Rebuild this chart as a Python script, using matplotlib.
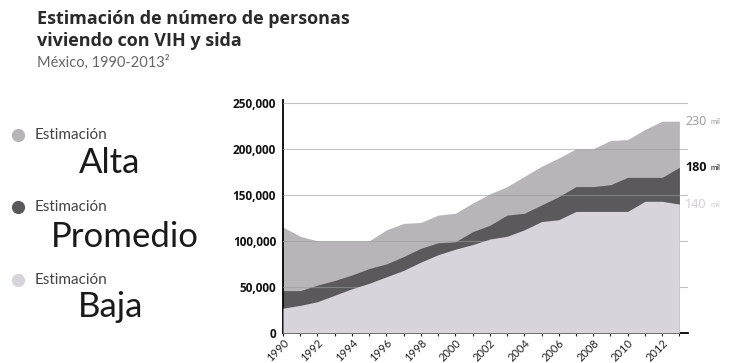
import matplotlib.pyplot as plt
from matplotlib.lines import Line2D
from matplotlib.ticker import FuncFormatter, MultipleLocator

# Personas viviendo con VIH y sida, México 1990-2013 (tres estimaciones)
anios = list(range(1990, 2014))
alta = [115000, 105000, 100000, 100000, 100000, 100000, 112000, 119000,
        120000, 128000, 130000, 141000, 151000, 159000, 170000, 181000,
        190000, 200000, 200000, 209000, 210000, 221000, 230000, 230000]
promedio = [46000, 46000, 52000, 57000, 63000, 70000, 75000, 83000,
            92000, 98000, 99000, 110000, 117000, 128000, 130000, 139000,
            148000, 159000, 159000, 161000, 169000, 169000, 169000, 180000]
baja = [27000, 30000, 34000, 41000, 48000, 54000, 61000, 68000,
        77000, 85000, 91000, 96000, 102000, 105000, 112000, 121000,
        123000, 132000, 132000, 132000, 132000, 143000, 143000, 140000]

col_alta = '#b7b5b8'
col_prom = '#5b595c'
col_baja = '#d9d3dc'

plt.rcParams['font.family'] = ['Lato', 'DejaVu Sans']
negrita = ['Open Sans', 'DejaVu Sans']

fig = plt.figure(figsize=(7.45, 3.63), dpi=100)
ax = fig.add_axes([283 / 745, 30 / 363, 405 / 745, 233 / 363])

# áreas superpuestas, no apiladas
ax.fill_between(anios, 0, alta, color=col_alta, lw=0, zorder=1)
ax.fill_between(anios, 0, promedio, color=col_prom, lw=0, zorder=2)
ax.fill_between(anios, 0, baja, color=col_baja, lw=0, zorder=3)

ax.set_xlim(1990, 2013.5)
ax.set_ylim(0, 253000)
ax.yaxis.set_major_locator(MultipleLocator(50000))
ax.yaxis.set_major_formatter(FuncFormatter(lambda v, p: f'{int(v):,}'))
ax.grid(axis='y', color='#9a9a9a', lw=0.8, alpha=0.6, zorder=4)
ax.set_axisbelow(False)

ax.xaxis.set_major_locator(MultipleLocator(2))
ax.xaxis.set_minor_locator(MultipleLocator(1))
ax.tick_params(axis='x', which='both', direction='inout', length=4,
               width=0.8, labelsize=8, pad=1, colors='#222222')
ax.tick_params(axis='y', length=0, labelsize=8.5, pad=5, colors='#111111')
for lab in ax.get_yticklabels():
    lab.set_family(negrita)
    lab.set_fontweight('bold')
for lab in ax.get_xticklabels():
    lab.set_rotation(45)
    lab.set_ha('right')
    lab.set_rotation_mode('anchor')

for s in ['top', 'right']:
    ax.spines[s].set_visible(False)
ax.spines['left'].set_linewidth(1.3)
ax.spines['bottom'].set_linewidth(1.3)

# valores finales a la derecha
etiquetas = [(alta[-1], '#9a989b', 'normal'),
             (promedio[-1], '#111111', 'bold'),
             (baja[-1], '#d0ccd3', 'normal')]
for val, c, w in etiquetas:
    ax.annotate(f'{val // 1000}', xy=(1.0, val), xycoords=('axes fraction', 'data'),
                xytext=(-2, 0), textcoords='offset points', va='center',
                fontsize=9, color=c, fontweight=w, family=negrita,
                annotation_clip=False)
    ax.annotate('mil', xy=(1.0, val), xycoords=('axes fraction', 'data'),
                xytext=(16, 0), textcoords='offset points', va='center',
                fontsize=5.5, color=c, annotation_clip=False)

# título
fig.text(37 / 745, 1 - 19 / 363, 'Estimación de número de personas', fontsize=13,
         fontweight='bold', family=negrita, color='#2a2a2a', va='center')
fig.text(37 / 745, 1 - 41 / 363, 'viviendo con VIH y sida', fontsize=13,
         fontweight='bold', family=negrita, color='#2a2a2a', va='center')
fig.text(37 / 745, 1 - 62 / 363, 'México, 1990-2013²', fontsize=10.5,
         color='#666666', va='center')

# leyenda manual
leyenda = [('Alta', col_alta, 135, 163, 110),
           ('Promedio', col_prom, 207, 237, 125),
           ('Baja', col_baja, 280, 307, 111)]
for nombre, c, y1, y2, xc in leyenda:
    fig.add_artist(Line2D([18 / 745], [1 - y1 / 363], transform=fig.transFigure,
                          marker='o', markersize=8.5, color=c, lw=0))
    fig.text(35 / 745, 1 - y1 / 363, 'Estimación', fontsize=11, color='#444444',
             va='center')
    fig.text(xc / 745, 1 - y2 / 363, nombre, fontsize=25, color='#1a1a1a',
             va='center', ha='center')

fig.savefig('out.png', dpi=100, facecolor='white')
